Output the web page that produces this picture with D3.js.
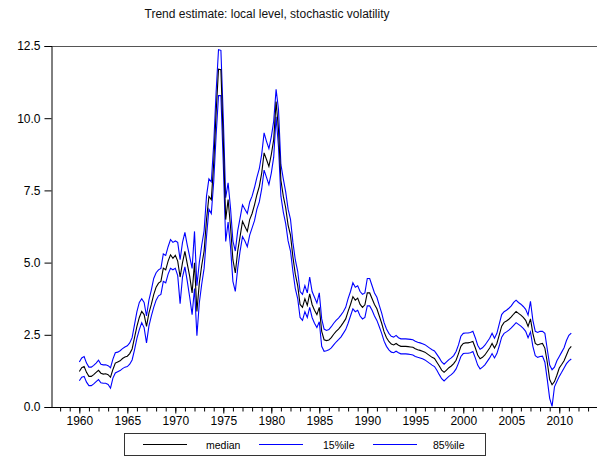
<!DOCTYPE html>
<html>
<head>
<meta charset="utf-8">
<script src="https://cdn.jsdelivr.net/npm/d3@7"></script>
<style>
  html, body { margin: 0; padding: 0; background: #fff; }
  svg { display: block; font-family: "Liberation Sans", Arial, Helvetica, sans-serif; }
</style>
</head>
<body>
<svg id="chart" width="597" height="458"></svg>
<script>
// Quarterly series, first observation 1960Q1
const startYear = 1960;
const periodsPerYear = 4;

const median = [
  1.23,1.36,1.40,1.20, 1.06,1.06,1.12,1.20, 1.27,1.17,1.14,1.15, 1.12,1.03,1.30,1.52,
  1.56,1.60,1.68,1.73, 1.76,1.85,2.01,2.40, 2.79,3.10,3.31,3.20, 2.79,3.25,3.55,3.89,
  4.15,4.29,4.35,4.81, 4.75,5.05,5.27,5.15, 5.25,5.05,4.50,5.00, 5.39,4.95,4.52,3.95,
  4.99,3.31,4.29,4.90, 5.40,6.49,7.29,7.18, 8.45,10.18,11.70,11.68, 9.20,6.49,7.18,6.25,
  5.10,4.64,5.40,5.91, 6.43,6.25,6.08,6.49, 6.70,7.00,7.35,7.64, 8.10,8.80,8.57,8.33,
  8.74,9.26,10.58,9.60, 7.85,7.30,6.90,6.30, 5.95,5.20,4.60,4.20, 3.55,3.45,3.75,3.52,
  3.92,3.55,3.35,3.20, 3.45,2.62,2.33,2.30, 2.32,2.40,2.52,2.62, 2.70,2.80,2.92,3.05,
  3.31,3.55,3.82,3.70, 3.77,3.55,3.45,3.54, 3.95,3.95,3.75,3.55, 3.40,3.15,2.90,2.60,
  2.40,2.27,2.18,2.15, 2.20,2.14,2.10,2.10, 2.10,2.09,2.08,2.07, 2.02,1.98,1.96,1.93,
  1.90,1.84,1.78,1.72, 1.68,1.55,1.42,1.28, 1.20,1.28,1.36,1.42, 1.50,1.62,1.85,2.10,
  2.20,2.22,2.22,2.24, 2.27,2.05,1.80,1.67, 1.72,1.80,1.92,2.04, 2.20,2.04,2.20,2.50,
  2.80,2.93,2.98,3.04, 3.12,3.22,3.31,3.24, 3.18,3.10,3.00,2.79, 3.05,2.55,2.20,2.15,
  2.18,2.20,2.04,1.55, 0.95,0.77,0.88,1.10, 1.35,1.47,1.60,1.80, 2.00,2.10
];

const pct85 = [
  1.56,1.70,1.75,1.52, 1.38,1.38,1.44,1.52, 1.62,1.48,1.46,1.46, 1.43,1.36,1.66,1.88,
  1.90,1.95,2.02,2.08, 2.12,2.22,2.40,2.85, 3.30,3.62,3.75,3.62, 3.15,3.70,4.05,4.45,
  4.65,4.75,4.80,5.30, 5.25,5.55,5.80,5.70, 5.75,5.70,5.10,5.70, 6.05,5.60,5.20,4.80,
  6.08,4.20,5.00,5.60, 6.10,7.30,7.90,7.80, 9.10,10.90,12.37,12.35, 10.00,7.25,7.76,6.90,
  5.75,5.40,6.10,6.55, 7.00,6.85,6.70,7.10, 7.30,7.60,7.95,8.25, 8.75,9.49,9.20,8.95,
  9.35,9.90,11.00,10.30, 8.40,7.90,7.45,6.85, 6.50,5.70,5.10,4.70, 4.00,3.90,4.20,3.95,
  4.50,4.00,3.80,3.60, 3.95,3.05,2.70,2.65, 2.68,2.78,2.90,3.00, 3.08,3.18,3.30,3.45,
  3.75,4.00,4.30,4.15, 4.20,4.00,3.90,3.95, 4.45,4.45,4.20,3.95, 3.80,3.52,3.25,2.92,
  2.70,2.55,2.45,2.42, 2.48,2.40,2.36,2.36, 2.36,2.35,2.34,2.33, 2.28,2.24,2.22,2.19,
  2.16,2.10,2.04,1.98, 1.94,1.82,1.70,1.56, 1.48,1.56,1.64,1.70, 1.78,1.92,2.15,2.45,
  2.55,2.56,2.56,2.58, 2.62,2.40,2.14,2.00, 2.05,2.14,2.26,2.38, 2.55,2.38,2.55,2.88,
  3.20,3.30,3.35,3.42, 3.50,3.62,3.70,3.62, 3.56,3.48,3.38,3.18, 3.66,3.00,2.62,2.58,
  2.62,2.62,2.55,2.00, 1.45,1.29,1.38,1.60, 1.75,1.90,2.05,2.30, 2.48,2.56
];

const pct15 = [
  0.91,1.03,1.06,0.86, 0.74,0.74,0.80,0.88, 0.95,0.84,0.82,0.82, 0.78,0.65,1.00,1.18,
  1.22,1.26,1.33,1.38, 1.40,1.48,1.63,1.98, 2.38,2.68,2.92,2.75, 2.22,2.80,3.15,3.45,
  3.70,3.85,3.90,4.35, 4.30,4.60,4.80,4.75, 4.80,4.55,3.58,4.50, 4.85,4.35,3.80,3.20,
  4.10,2.47,3.60,4.25, 4.80,5.90,6.85,6.70, 7.80,9.40,10.78,10.78, 8.40,5.73,6.40,5.55,
  4.35,4.00,4.80,5.40, 5.90,5.75,5.55,5.95, 6.20,6.45,6.85,7.10, 7.55,8.20,7.95,7.70,
  8.10,8.65,10.05,9.00, 7.30,6.75,6.35,5.75, 5.40,4.70,4.10,3.75, 3.10,3.00,3.30,3.10,
  3.45,3.10,2.90,2.75, 2.95,2.10,1.93,1.95, 1.98,2.05,2.15,2.25, 2.33,2.42,2.55,2.68,
  2.90,3.15,3.40,3.30, 3.35,3.15,3.05,3.10, 3.50,3.50,3.35,3.15, 3.00,2.78,2.55,2.28,
  2.10,1.98,1.90,1.88, 1.93,1.88,1.84,1.84, 1.84,1.83,1.82,1.80, 1.75,1.72,1.70,1.67,
  1.63,1.57,1.51,1.45, 1.40,1.27,1.12,0.98, 0.90,0.98,1.06,1.12, 1.20,1.32,1.52,1.75,
  1.85,1.86,1.86,1.88, 1.92,1.70,1.45,1.32, 1.38,1.46,1.58,1.70, 1.85,1.70,1.85,2.12,
  2.42,2.55,2.60,2.66, 2.74,2.83,2.92,2.86, 2.80,2.72,2.62,2.40, 2.60,2.10,1.78,1.72,
  1.75,1.76,1.55,0.95, 0.30,0.02,0.70,0.88, 1.06,1.20,1.35,1.50, 1.60,1.66
];

const yTicks = [0, 2.5, 5, 7.5, 10, 12.5];
const xMajorTicks = [1960, 1965, 1970, 1975, 1980, 1985, 1990, 1995, 2000, 2005, 2010];
const xMinorTicks = d3.range(1958, 2014);

const seriesNames = ["median", "15%ile", "85%ile"];
const seriesColors = ["#000000", "#0000ff", "#0000ff"];

const titleText = "Trend estimate: local level, stochastic volatility";

// ---- layout ----
const svg = d3.select("#chart");
const plot = { left: 51, right: 597, top: 46, bottom: 407 };

const x = d3.scaleLinear().domain([1957.05, 2013.93]).range([plot.left, plot.right]);
const y = d3.scaleLinear().domain([0, 12.5]).range([plot.bottom, plot.top]);

const dateOf = i => startYear + i / periodsPerYear;

// title
svg.append("text")
  .attr("x", 267).attr("y", 18)
  .attr("text-anchor", "middle")
  .attr("font-size", 12)
  .attr("fill", "#111")
  .text(titleText);

// top frame line
svg.append("line")
  .attr("x1", plot.left).attr("x2", plot.right)
  .attr("y1", plot.top + 0.5).attr("y2", plot.top + 0.5)
  .attr("stroke", "#555").attr("stroke-width", 1);

// y axis
const yAxis = d3.axisLeft(y).tickValues(yTicks).tickSize(7).tickPadding(4)
  .tickFormat(d3.format(".1f"));
const gy = svg.append("g")
  .attr("transform", `translate(${plot.left + 0.5},0)`)
  .call(yAxis);
gy.select(".domain").attr("stroke", "#000");
gy.selectAll(".tick line").attr("stroke", "#000");
gy.selectAll(".tick text").attr("font-size", 12).attr("fill", "#000")
  .attr("font-family", "'Liberation Sans', Arial, sans-serif");

// x axis: minor yearly ticks, then labelled 5-year ticks
const gxMinor = svg.append("g")
  .attr("transform", `translate(0,${plot.bottom + 0.5})`)
  .call(d3.axisBottom(x).tickValues(xMinorTicks).tickSize(4).tickFormat(""));
gxMinor.select(".domain").remove();
gxMinor.selectAll(".tick line").attr("stroke", "#000");

const gx = svg.append("g")
  .attr("transform", `translate(0,${plot.bottom + 0.5})`)
  .call(d3.axisBottom(x).tickValues(xMajorTicks).tickSize(6).tickPadding(3)
    .tickFormat(d3.format("d")));
gx.select(".domain").attr("stroke", "#000").attr("d", `M${plot.left},0H${plot.right}`);
gx.selectAll(".tick line").attr("stroke", "#000");
gx.selectAll(".tick text").attr("font-size", 12).attr("fill", "#000")
  .attr("font-family", "'Liberation Sans', Arial, sans-serif");

// series lines
const line = d3.line()
  .x((d, i) => x(dateOf(i)))
  .y(d => y(d));

const drawOrder = [
  { values: pct15, color: seriesColors[1] },
  { values: pct85, color: seriesColors[2] },
  { values: median, color: seriesColors[0] }
];
svg.append("g").selectAll("path")
  .data(drawOrder)
  .join("path")
  .attr("d", d => line(d.values))
  .attr("fill", "none")
  .attr("stroke", d => d.color)
  .attr("stroke-width", 1.1)
  .attr("stroke-linejoin", "miter");

// legend
const legend = svg.append("g");
legend.append("rect")
  .attr("x", 124.5).attr("y", 433.5)
  .attr("width", 361).attr("height", 22)
  .attr("fill", "#fff").attr("stroke", "#333").attr("stroke-width", 1);

const legendItems = [
  { name: seriesNames[0], color: seriesColors[0], x1: 143, x2: 187, tx: 206 },
  { name: seriesNames[1], color: seriesColors[1], x1: 259, x2: 303, tx: 323 },
  { name: seriesNames[2], color: seriesColors[2], x1: 373, x2: 417, tx: 433 }
];
legendItems.forEach(it => {
  legend.append("line")
    .attr("x1", it.x1).attr("x2", it.x2)
    .attr("y1", 444.5).attr("y2", 444.5)
    .attr("stroke", it.color).attr("stroke-width", 1.1);
  legend.append("text")
    .attr("x", it.tx).attr("y", 448.5)
    .attr("font-size", 10.5).attr("fill", "#000")
    .text(it.name);
});
</script>
</body>
</html>
